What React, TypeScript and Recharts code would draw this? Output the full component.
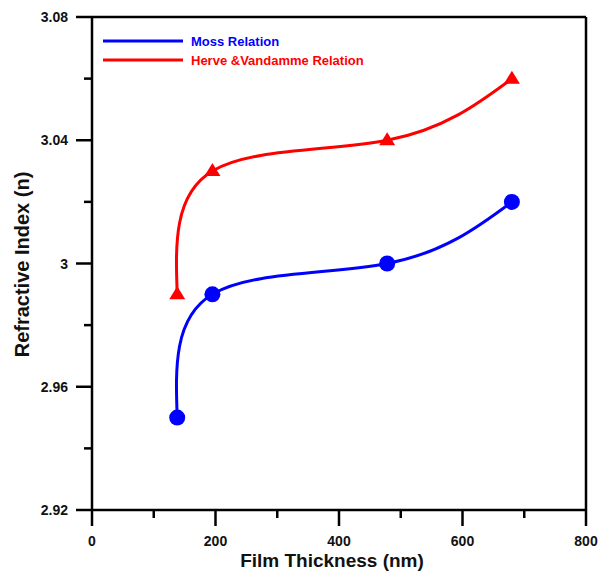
import { LineChart, Line, XAxis, YAxis, ReferenceLine } from 'recharts'

const thickness = [138, 195, 478, 680]
const mossIndex = [2.95, 2.99, 3.0, 3.02]
const herveIndex = [2.99, 3.03, 3.04, 3.06]

const xTicks = [0, 100, 200, 300, 400, 500, 600, 700, 800]
const xLabels = ['0', '', '200', '', '400', '', '600', '', '800']
const yTicks = [2.92, 2.94, 2.96, 2.98, 3.0, 3.02, 3.04, 3.06, 3.08]
const yLabels = ['2.92', '', '2.96', '', '3', '', '3.04', '', '3.08']

const FONT = 'Arial, "Liberation Sans", sans-serif'

const data = thickness.map((t, i) => ({ t, moss: mossIndex[i], herve: herveIndex[i] }))

function XTick({ x, y, index }: any) {
  const label = xLabels[index]
  const len = label ? 16 : 8
  return (
    <g>
      <line x1={x} y1={y} x2={x} y2={y + len} stroke="#000" strokeWidth={2.5} />
      {label && (
        <text x={x} y={y + 31} textAnchor="middle" dominantBaseline="central"
          fontFamily={FONT} fontWeight="bold" fontSize={14} fill="#111">{label}</text>
      )}
    </g>
  )
}

function YTick({ x, y, index }: any) {
  const label = yLabels[index]
  const len = label ? 16 : 8
  return (
    <g>
      <line x1={x - len} y1={y} x2={x} y2={y} stroke="#000" strokeWidth={2.5} />
      {label && (
        <text x={x - 24} y={y} textAnchor="end" dominantBaseline="central"
          fontFamily={FONT} fontWeight="bold" fontSize={14} fill="#111">{label}</text>
      )}
    </g>
  )
}

function Triangle({ cx, cy }: any) {
  if (cx == null || cy == null) return null
  return <polygon points={`${cx},${cy - 8} ${cx - 8},${cy + 5} ${cx + 8},${cy + 5}`} fill="#ff0000" />
}

function Circle({ cx, cy }: any) {
  if (cx == null || cy == null) return null
  return <circle cx={cx} cy={cy} r={8} fill="#0000ff" />
}

const legendItems = [
  { name: 'Moss Relation', color: '#0000ff' },
  { name: 'Herve &Vandamme Relation', color: '#ff0000' },
]

function LegendBox() {
  return (
    <svg width={300} height={40} style={{ position: 'absolute', left: 100, top: 35 }}>
      {legendItems.map((it, i) => (
        <g key={it.name}>
          <line x1={3} y1={6 + i * 19} x2={83} y2={6 + i * 19} stroke={it.color} strokeWidth={3} />
          <text x={91} y={6 + i * 19} dominantBaseline="central" fontFamily={FONT}
            fontWeight="bold" fontSize={13} fill={it.color}>{it.name}</text>
        </g>
      ))}
    </svg>
  )
}

export default function App() {
  return (
    <div style={{ position: 'absolute', left: 0, top: 0, width: 598, height: 571, background: '#fff' }}>
      <LineChart width={598} height={571} data={data}
        margin={{ top: 17, right: 12, bottom: 0, left: 0 }}>
        <XAxis dataKey="t" type="number" domain={[0, 800]} ticks={xTicks} interval={0}
          height={61} tickSize={0} tickMargin={0} tick={<XTick />}
          axisLine={{ stroke: '#000', strokeWidth: 2.5 }}
          label={{
            value: 'Film Thickness (nm)', position: 'insideBottom', offset: 0,
            content: ({ viewBox }: any) => (
              <text x={viewBox.x + viewBox.width / 2 - 7} y={viewBox.y + 50} textAnchor="middle"
                dominantBaseline="central" fontFamily={FONT} fontWeight="bold" fontSize={19} fill="#111">
                Film Thickness (nm)
              </text>
            ),
          }} />
        <YAxis type="number" domain={[2.92, 3.08]} ticks={yTicks} interval={0}
          width={92} tickSize={0} tickMargin={0} tick={<YTick />}
          axisLine={{ stroke: '#000', strokeWidth: 2.5 }}
          label={{
            value: 'Refractive Index (n)', position: 'insideLeft',
            content: ({ viewBox }: any) => {
              const cy = viewBox.y + viewBox.height / 2 + 1
              return (
                <text x={22} y={cy} textAnchor="middle" dominantBaseline="central"
                  transform={`rotate(-90, 22, ${cy})`} fontFamily={FONT} fontWeight="bold"
                  fontSize={20} fill="#111">
                  Refractive Index (n)
                </text>
              )
            },
          }} />
        <ReferenceLine y={3.08} stroke="#000" strokeWidth={2.5} />
        <ReferenceLine x={800} stroke="#000" strokeWidth={2.5} />
        <Line type="natural" dataKey="moss" name="Moss Relation" stroke="#0000ff" strokeWidth={3}
          dot={<Circle />} activeDot={false} isAnimationActive={false} />
        <Line type="natural" dataKey="herve" name="Herve &Vandamme Relation" stroke="#ff0000" strokeWidth={3}
          dot={<Triangle />} activeDot={false} isAnimationActive={false} />
      </LineChart>
      <LegendBox />
    </div>
  )
}
